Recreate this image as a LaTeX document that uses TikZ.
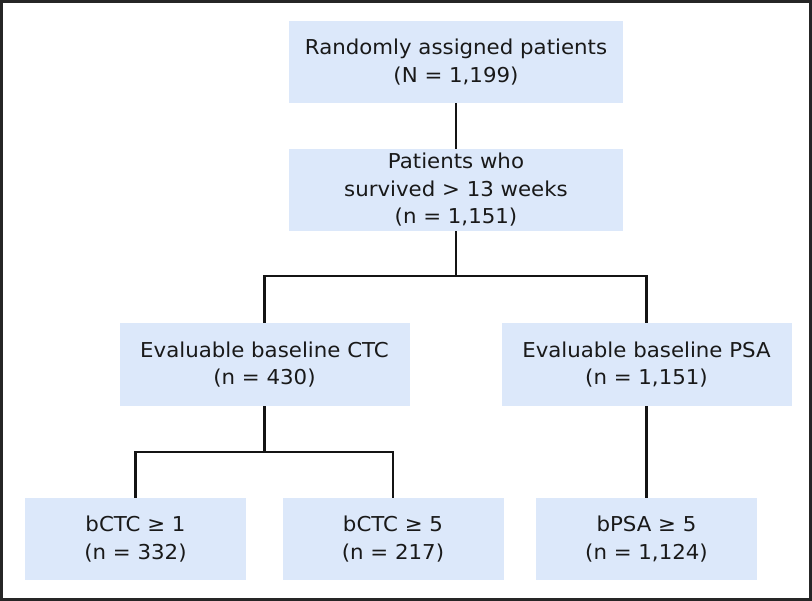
\documentclass[tikz,border=0pt]{standalone}
\usepackage{fontspec}
\setmainfont{DejaVu Sans}[FakeStretch=1.04]
\definecolor{boxblue}{RGB}{220,232,250}
\definecolor{txt}{RGB}{25,25,25}
\begin{document}
\begin{tikzpicture}[x=1pt,y=-1pt,
  box/.style={fill=boxblue, draw=none, inner sep=0pt, align=center,
    font=\fontsize{20.5}{27.5}\selectfont, text=txt},
  wide/.style={minimum width=334pt, minimum height=82pt},
  mid/.style={minimum width=290pt, minimum height=83pt},
  small/.style={minimum width=221pt, minimum height=82pt},
  conn/.style={line width=2.7pt, draw=black!92, line join=miter}]
\useasboundingbox (0,0) rectangle (812,601);
\draw[line width=2.6pt, draw=black!85] (1.3,1.3) rectangle (810.7,599.7);
\node[box, wide] (b1) at (456,62) {Randomly assigned patients\\(N = 1,199)};
\node[box, wide] (b2) at (456,190) {Patients who\\survived > 13 weeks\\(n = 1,151)};
\node[box, mid] (b3) at (264.5,364.5) {Evaluable baseline CTC\\(n = 430)};
\node[box, mid] (b4) at (646.5,364.5) {Evaluable baseline PSA\\(n = 1,151)};
\node[box, small] (b5) at (135.5,539) {bCTC ≥ 1\\(n = 332)};
\node[box, small] (b6) at (393,539) {bCTC ≥ 5\\(n = 217)};
\node[box, small] (b7) at (646.5,539) {bPSA ≥ 5\\(n = 1,124)};
\coordinate (j1) at (456,276);
\coordinate (j2) at (264.5,452);
\draw[conn] (b1.south) -- (b2.north);
\draw[conn] (b2.south) -- (j1);
\draw[conn] (b3.north) |- (j1) -| (b4.north);
\draw[conn] (b3.south) -- (j2);
\draw[conn] (b5.north) |- (j2) -| (b6.north);
\draw[conn] (b4.south) -- (b7.north);
\end{tikzpicture}
\end{document}
